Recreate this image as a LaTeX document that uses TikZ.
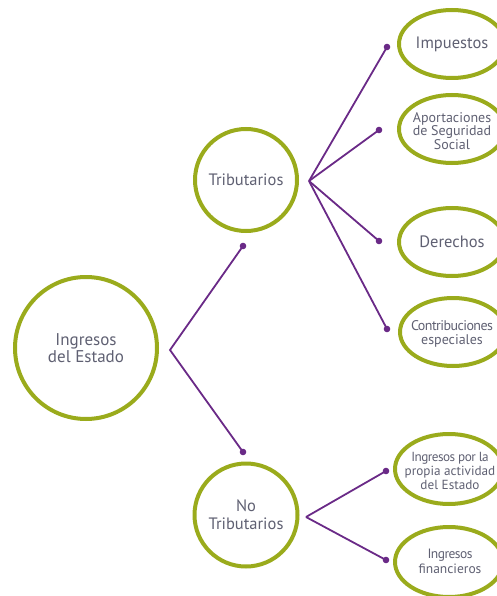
\documentclass[tikz,border=0pt]{standalone}
\usepackage{fontspec}
\setmainfont{PT Sans}
\usetikzlibrary{shapes.geometric}
\definecolor{olive}{HTML}{9AAB1C}
\definecolor{plum}{HTML}{6A2A87}
\definecolor{txt}{HTML}{5F6072}
\tikzset{
  bigcirc/.style={circle,draw=olive,line width=4pt,text=txt,align=center,inner sep=0pt},
  leaf/.style={ellipse,draw=olive,line width=4pt,inner sep=0pt,minimum width=106pt,minimum height=68pt},
  leaftxt/.style={text=txt,align=center,inner sep=0pt},
  link/.style={draw=plum,line width=1.8pt},
  dot/.style={fill=plum},
}
\begin{document}
\begin{tikzpicture}[x=1pt,y=-1pt]
\useasboundingbox (0,0) rectangle (497,596);
\clip (0,0) rectangle (497,596);
% main circles
\node[bigcirc,minimum size=142pt,font=\fontsize{17}{17}\selectfont] (root) at (86,348) {Ingresos\\del Estado};
\node[bigcirc,minimum size=102pt,font=\fontsize{16.5}{18}\selectfont] (trib) at (246,180) {Tributarios};
\node[bigcirc,minimum size=103pt,font=\fontsize{16.5}{18}\selectfont] (notrib) at (246,515) {No\\Tributarios};
% leaves
\node[leaf] (imp) at (452,44) {};
\node[leaf] (apo) at (452,129) {};
\node[leaf] (der) at (452,242) {};
\node[leaf] (con) at (453,332) {};
\node[leaf,minimum width=108pt,minimum height=70pt] (ipa) at (449,469) {};
\node[leaf,minimum width=108pt,minimum height=70pt] (ifi) at (449,562) {};
\node[leaftxt,font=\fontsize{16.5}{18}\selectfont] (imp-t) at (imp) {Impuestos};
\node[leaftxt,font=\fontsize{14}{13.5}\selectfont] (apo-t) at (452,131) {Aportaciones\\de Seguridad\\Social};
\node[leaftxt,font=\fontsize{16.5}{18}\selectfont] (der-t) at (der) {Derechos};
\node[leaftxt,font=\fontsize{14}{14}\selectfont] (con-t) at (452,334) {\addfontfeature{LetterSpace=-4}Contribuciones\\especiales};
\node[leaftxt,font=\fontsize{13.2}{14}\selectfont] (ipa-t) at (450,471) {\addfontfeature{LetterSpace=-4}Ingresos por la\\propia actividad\\del Estado};
\node[leaftxt,font=\fontsize{13.5}{15}\selectfont] (ifi-t) at (450,561) {\addfontfeature{LetterSpace=-4}Ingresos\\financieros};
% connector coordinates
\coordinate (v0) at (170,350);
\coordinate (d1) at (243,246);
\coordinate (d2) at (243,452);
\coordinate (v1) at (309,181);
\coordinate (e1) at (387,47);
\coordinate (e2) at (379,130);
\coordinate (e3) at (379,241);
\coordinate (e4) at (387,329);
\coordinate (v2) at (306,517);
\coordinate (f1) at (386,471);
\coordinate (f2) at (386,560);
% connectors
\draw[link] (d1) -- (v0) -- (d2);
\draw[link] (v1) -- (e1);
\draw[link] (v1) -- (e2);
\draw[link] (v1) -- (e3);
\draw[link] (v1) -- (e4);
\draw[link] (v2) -- (f1);
\draw[link] (v2) -- (f2);
\foreach \p in {d1,d2,e1,e2,e3,e4,f1,f2} \fill[dot] (\p) circle (3.3pt);
\end{tikzpicture}
\end{document}
